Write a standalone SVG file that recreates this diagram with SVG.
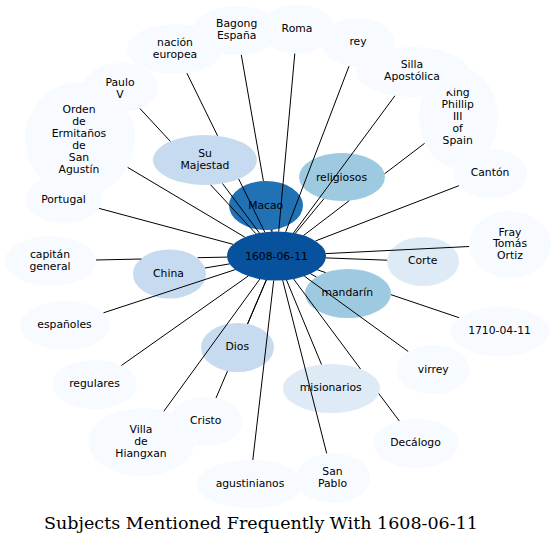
<svg xmlns="http://www.w3.org/2000/svg" width="556" height="544" viewBox="0 0 556 544">
<style>
.node ellipse{stroke:none}
.c0{fill:#f7fbff}.c1{fill:#deebf7}.c2{fill:#c6dbef}.c3{fill:#9ecae1}.c4{fill:#2171b5}.c5{fill:#08519c}
.node text{font-family:"DejaVu Sans","Liberation Sans",sans-serif;font-size:10.8px;text-anchor:middle;fill:#000}
#connectors path{fill:none;stroke:#000;stroke-width:1}
.title{font-family:"DejaVu Serif","Liberation Serif",serif;font-size:17.5px;text-anchor:middle;fill:#000}
</style>
<rect width="556" height="544" fill="#fff"/>
<g id="nodes">
<g id="n-orden" class="node"><ellipse class="c0" cx="80" cy="139" rx="55" ry="57"/><text x="79" y="112.8">Orden</text><text x="79" y="124.8">de</text><text x="79" y="136.8">Ermitaños</text><text x="79" y="148.8">de</text><text x="79" y="160.8">San</text><text x="79" y="172.8">Agustín</text></g>
<g id="n-paulo" class="node"><ellipse class="c0" cx="120.5" cy="87.5" rx="37.5" ry="24.5"/><text x="120" y="85.8">Paulo</text><text x="120" y="97.8">V</text></g>
<g id="n-portugal" class="node"><ellipse class="c0" cx="64" cy="199" rx="38" ry="24.5"/><text x="63.5" y="202.8">Portugal</text></g>
<g id="n-bagong" class="node"><ellipse class="c0" cx="237" cy="30.5" rx="44" ry="24.5"/><text x="236.7" y="27.3">Bagong</text><text x="236.7" y="39.3">España</text></g>
<g id="n-nacion" class="node"><ellipse class="c0" cx="175" cy="49" rx="48" ry="25"/><text x="175" y="45.8">nación</text><text x="175" y="57.8">europea</text></g>
<g id="n-roma" class="node"><ellipse class="c0" cx="297" cy="29" rx="37" ry="24.5"/><text x="297" y="31.8">Roma</text></g>
<g id="n-rey" class="node"><ellipse class="c0" cx="358" cy="42.5" rx="36" ry="24.5"/><text x="358" y="45.3">rey</text></g>
<g id="n-king" class="node"><ellipse class="c0" cx="458.5" cy="117.5" rx="39.5" ry="50.5"/><text x="457.7" y="95.8">King</text><text x="457.7" y="107.8">Phillip</text><text x="457.7" y="119.8">III</text><text x="457.7" y="131.8">of</text><text x="457.7" y="143.8">Spain</text></g>
<g id="n-silla" class="node"><ellipse class="c0" cx="412.5" cy="72" rx="56.5" ry="25"/><text x="412" y="68">Silla</text><text x="412" y="80">Apostólica</text></g>
<g id="n-canton" class="node"><ellipse class="c0" cx="490.5" cy="173.5" rx="36.5" ry="24.5"/><text x="490" y="175.8">Cantón</text></g>
<g id="n-capitan" class="node"><ellipse class="c0" cx="50.5" cy="261" rx="45.5" ry="25"/><text x="50" y="257.5">capitán</text><text x="50" y="269.5">general</text></g>
<g id="n-espanoles" class="node"><ellipse class="c0" cx="65" cy="325.5" rx="45" ry="24.5"/><text x="64.5" y="328">españoles</text></g>
<g id="n-regulares" class="node"><ellipse class="c0" cx="94.5" cy="384.5" rx="42.5" ry="24.5"/><text x="94.5" y="387">regulares</text></g>
<g id="n-villa" class="node"><ellipse class="c0" cx="141.5" cy="442" rx="53" ry="34"/><text x="141" y="432.8">Villa</text><text x="141" y="444.8">de</text><text x="141" y="456.8">Hiangxan</text></g>
<g id="n-cristo" class="node"><ellipse class="c0" cx="206" cy="421.5" rx="36.5" ry="24.5"/><text x="205.7" y="423.8">Cristo</text></g>
<g id="n-agustinianos" class="node"><ellipse class="c0" cx="250" cy="484" rx="53" ry="24"/><text x="250" y="486.5">agustinianos</text></g>
<g id="n-sanpablo" class="node"><ellipse class="c0" cx="333" cy="478" rx="37" ry="25"/><text x="332.5" y="474.8">San</text><text x="332.5" y="486.8">Pablo</text></g>
<g id="n-decalogo" class="node"><ellipse class="c0" cx="416" cy="443.5" rx="42.5" ry="24.5"/><text x="415.5" y="445.8">Decálogo</text></g>
<g id="n-virrey" class="node"><ellipse class="c0" cx="433" cy="369.5" rx="36.5" ry="24.5"/><text x="433.3" y="372.5">virrey</text></g>
<g id="n-1710" class="node"><ellipse class="c0" cx="500" cy="331.5" rx="49.5" ry="24.5"/><text x="499.5" y="333.8">1710-04-11</text></g>
<g id="n-fray" class="node"><ellipse class="c0" cx="510" cy="244.5" rx="41" ry="33.5"/><text x="510" y="235.5">Fray</text><text x="510" y="247.3">Tomás</text><text x="510" y="259">Ortiz</text></g>
<g id="n-sumajestad" class="node"><ellipse class="c2" cx="205" cy="160" rx="52" ry="25"/><text x="205" y="156.8">Su</text><text x="205" y="168.8">Majestad</text></g>
<g id="n-religiosos" class="node"><ellipse class="c3" cx="342" cy="177" rx="43" ry="24"/><text x="341.5" y="180.8">religiosos</text></g>
<g id="n-macao" class="node"><ellipse class="c4" cx="266" cy="205.5" rx="37" ry="24.5"/><text x="265.7" y="209">Macao</text></g>
<g id="n-china" class="node"><ellipse class="c2" cx="169.5" cy="274" rx="36.5" ry="24.5"/><text x="168.5" y="276.7">China</text></g>
<g id="n-corte" class="node"><ellipse class="c1" cx="423" cy="261.5" rx="36" ry="24.5"/><text x="422.7" y="264">Corte</text></g>
<g id="n-mandarin" class="node"><ellipse class="c3" cx="348" cy="293.5" rx="43" ry="24.5"/><text x="347.3" y="296.3">mandarín</text></g>
<g id="n-dios" class="node"><ellipse class="c2" cx="237.5" cy="347.5" rx="36.5" ry="24.5"/><text x="237.3" y="350">Dios</text></g>
<g id="n-misionarios" class="node"><ellipse class="c1" cx="331.5" cy="388.5" rx="48.5" ry="24.5"/><text x="330.7" y="391.2">misionarios</text></g>
<g id="n-1608-06-11" class="node"><ellipse class="c5" cx="276.5" cy="256" rx="49.5" ry="24.5"/><text x="276.5" y="259.8">1608-06-11</text></g>
</g>
<g id="connectors">
<path d="M271.4,231.6 L271.0,229.8"/>
<path d="M259.4,233.0 L222.5,183.5"/>
<path d="M295.3,233.3 L323.9,198.8"/>
<path d="M229.6,263.9 L204.9,268.0"/>
<path d="M325.9,257.9 L387.1,260.2"/>
<path d="M310.5,273.8 L316.4,276.9"/>
<path d="M266.3,280.0 L247.5,324.0"/>
<path d="M286.5,280.0 L321.5,364.5"/>
<path d="M186.9,73.2 L217.6,135.8 M238.7,179.0 L264.8,232.2"/>
<path d="M241.3,54.9 L263.4,181.0 M271.9,229.7 L272.2,231.6"/>
<path d="M294.8,53.5 L278.7,231.5"/>
<path d="M349.0,66.2 L285.7,231.9"/>
<path d="M394.9,95.8 L293.5,233.0"/>
<path d="M424.6,143.3 L384.6,173.8 M349.2,200.7 L303.5,235.5"/>
<path d="M458.9,185.7 L315.6,240.9"/>
<path d="M139.9,108.5 L170.4,141.4 M210.6,184.8 L255.9,233.7"/>
<path d="M127.7,167.4 L244.9,237.2"/>
<path d="M99.1,208.4 L233.0,244.3"/>
<path d="M96.0,260.0 L141.4,259.0 M197.6,257.7 L227.1,257.1"/>
<path d="M103.5,312.8 L235.3,269.6"/>
<path d="M121.4,365.5 L248.1,276.1"/>
<path d="M163.9,411.2 L259.8,279.1"/>
<path d="M216.0,398.0 L227.5,371.1 M247.6,323.9 L266.3,280.0"/>
<path d="M252.8,460.0 L273.7,280.5"/>
<path d="M326.7,453.4 L282.7,280.3"/>
<path d="M293.6,279.0 L360.5,369.0 M378.8,393.6 L399.3,421.0"/>
<path d="M304.4,276.2 L408.2,351.5"/>
<path d="M317.4,269.8 L325.6,272.6 M391.0,294.7 L459.1,317.7"/>
<path d="M325.8,253.6 L469.1,246.5"/>
</g>
<text class="title" x="261" y="529">Subjects Mentioned Frequently With 1608-06-11</text>
</svg>
